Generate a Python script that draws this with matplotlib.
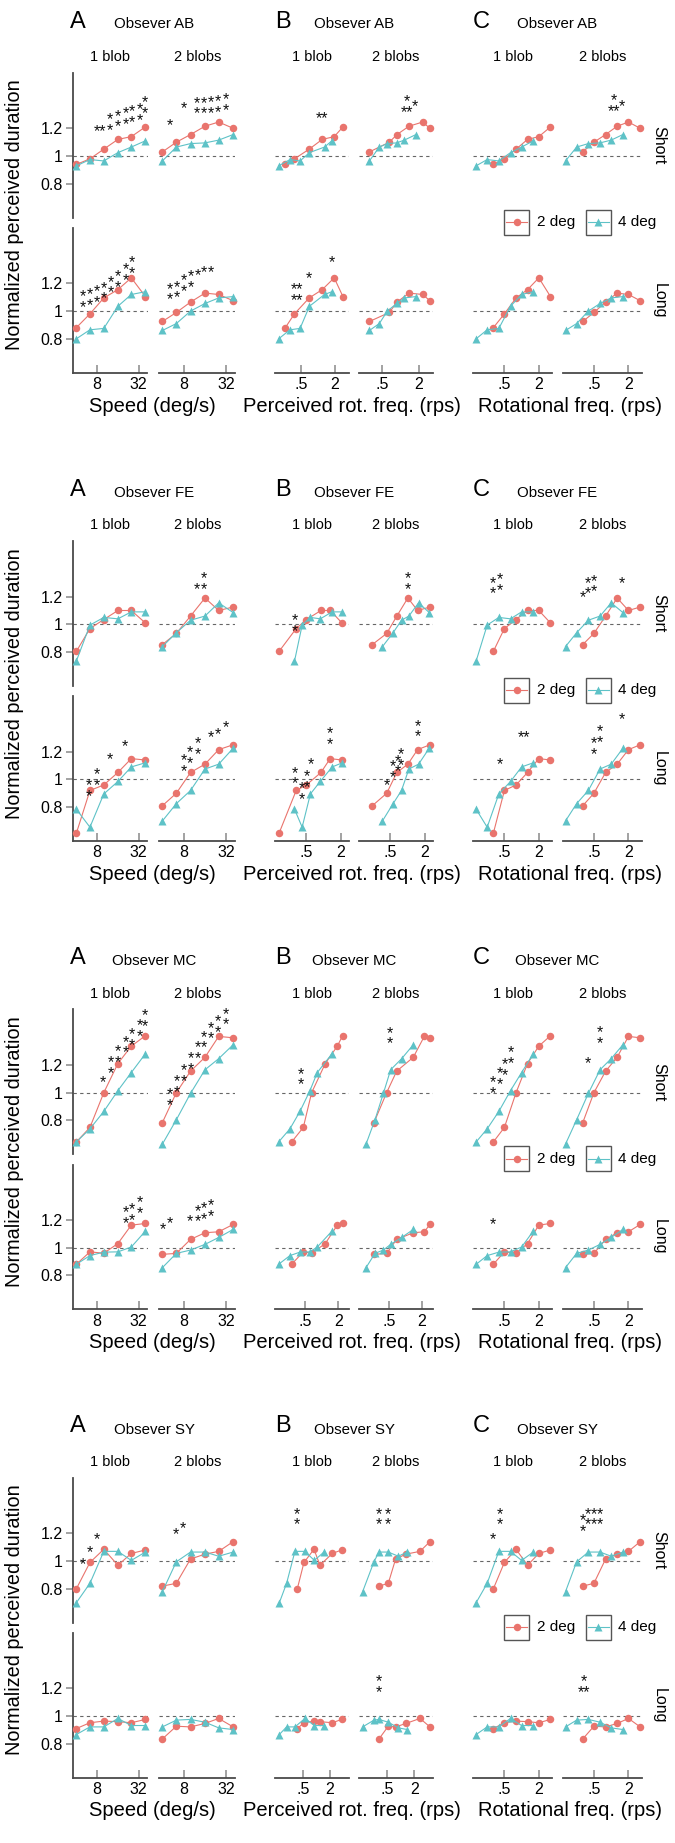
import matplotlib.pyplot as plt
from matplotlib.lines import Line2D
from matplotlib.patches import Rectangle
from matplotlib.ticker import NullLocator

plt.rcParams['font.family'] = ['Liberation Sans', 'DejaVu Sans']

W, H = 675, 1843
RED = '#E9746D'
CYAN = '#5EC2C7'
AXIS = '#4a4a4a'
TICK = '#9b9b9b'

observers = ['AB', 'FE', 'MC', 'SY']
speed = [4, 6.3, 10, 16, 25, 40]
rot_2deg = [0.32, 0.5, 0.8, 1.27, 2.0, 3.2]
rot_4deg = [0.16, 0.25, 0.4, 0.64, 1.0, 1.6]

# normalized perceived duration: <obs>_<s|l><blobs>_<size in deg>
ab_s1_2 = [0.94, 0.98, 1.05, 1.12, 1.14, 1.21]
ab_s1_4 = [0.93, 0.975, 0.965, 1.025, 1.065, 1.11]
ab_s2_2 = [1.03, 1.10, 1.155, 1.215, 1.245, 1.20]
ab_s2_4 = [0.965, 1.065, 1.09, 1.095, 1.115, 1.155]
ab_l1_2 = [0.88, 0.98, 1.095, 1.155, 1.24, 1.105]
ab_l1_4 = [0.80, 0.865, 0.875, 1.035, 1.12, 1.14]
ab_l2_2 = [0.925, 0.99, 1.065, 1.13, 1.12, 1.075]
ab_l2_4 = [0.86, 0.91, 1.0, 1.055, 1.095, 1.105]

fe_s1_2 = [0.805, 0.97, 1.035, 1.10, 1.10, 1.01]
fe_s1_4 = [0.735, 0.995, 1.05, 1.04, 1.09, 1.09]
fe_s2_2 = [0.855, 0.935, 1.06, 1.19, 1.10, 1.125]
fe_s2_4 = [0.84, 0.94, 1.03, 1.06, 1.155, 1.085]
fe_l1_2 = [0.61, 0.92, 0.96, 1.05, 1.15, 1.14]
fe_l1_4 = [0.785, 0.655, 0.895, 0.985, 1.09, 1.12]
fe_l2_2 = [0.81, 0.90, 1.05, 1.11, 1.215, 1.25]
fe_l2_4 = [0.70, 0.825, 0.92, 1.075, 1.11, 1.225]

mc_s1_2 = [0.645, 0.75, 1.0, 1.21, 1.335, 1.41]
mc_s1_4 = [0.645, 0.74, 0.865, 1.015, 1.145, 1.28]
mc_s2_2 = [0.785, 1.0, 1.155, 1.255, 1.405, 1.395]
mc_s2_4 = [0.63, 0.805, 0.995, 1.165, 1.245, 1.345]
mc_l1_2 = [0.88, 0.97, 0.96, 1.03, 1.163, 1.175]
mc_l1_4 = [0.88, 0.943, 0.968, 0.97, 1.005, 1.12]
mc_l2_2 = [0.952, 0.959, 1.06, 1.108, 1.115, 1.168]
mc_l2_4 = [0.856, 0.959, 0.983, 1.024, 1.074, 1.132]

sy_s1_2 = [0.80, 0.99, 1.085, 0.97, 1.055, 1.08]
sy_s1_4 = [0.70, 0.84, 1.07, 1.07, 1.005, 1.065]
sy_s2_2 = [0.82, 0.84, 1.015, 1.05, 1.07, 1.14]
sy_s2_4 = [0.78, 0.995, 1.065, 1.065, 1.035, 1.065]
sy_l1_2 = [0.91, 0.952, 0.964, 0.96, 0.952, 0.976]
sy_l1_4 = [0.867, 0.922, 0.922, 0.983, 0.932, 0.932]
sy_l2_2 = [0.835, 0.927, 0.922, 0.947, 0.983, 0.922]
sy_l2_4 = [0.922, 0.971, 0.976, 0.956, 0.915, 0.903]

# perceived rotational frequency (rps): <obs>_p<blobs>_<size>
ab_p1_2 = [0.26, 0.38, 0.70, 1.20, 1.97, 2.83]
ab_p1_4 = [0.198, 0.316, 0.48, 0.707, 1.32, 1.79]
ab_p2_2 = [0.305, 0.652, 0.875, 1.383, 2.33, 3.07]
ab_p2_4 = [0.305, 0.445, 0.605, 0.864, 1.158, 1.806]
fe_p1_2 = [0.171, 0.338, 0.507, 0.901, 1.298, 2.08]
fe_p1_4 = [0.316, 0.428, 0.593, 0.877, 1.405, 2.107]
fe_p2_2 = [0.241, 0.43, 0.646, 1.007, 1.488, 2.45]
fe_p2_4 = [0.362, 0.556, 0.78, 1.048, 1.549, 2.38]
mc_p1_2 = [0.287, 0.467, 0.66, 1.165, 1.918, 2.395]
mc_p1_4 = [0.167, 0.268, 0.406, 0.616, 0.835, 1.537]
mc_p2_2 = [0.259, 0.445, 0.685, 1.4, 2.24, 2.86]
mc_p2_4 = [0.184, 0.27, 0.387, 0.529, 0.849, 1.4]
sy_p1_2 = [0.366, 0.518, 0.871, 1.19, 2.26, 3.67]
sy_p1_4 = [0.144, 0.21, 0.324, 0.545, 0.886, 1.464]
sy_p2_2 = [0.326, 0.526, 0.767, 1.304, 2.676, 4.47]
sy_p2_4 = [0.141, 0.252, 0.326, 0.526, 0.88, 1.396]

# significance marks: (column, duration, blobs, x, y, stars)
ab_stars = [
    ('A', 'Short', 1, 8.7, 1.211, '**'), ('A', 'Short', 1, 12.4, 1.259, '*\n*'),
    ('A', 'Short', 1, 15.9, 1.283, '*\n*'), ('A', 'Short', 1, 20.6, 1.302, '*\n*'),
    ('A', 'Short', 1, 25.6, 1.316, '*\n*'), ('A', 'Short', 1, 32.8, 1.331, '*\n*'),
    ('A', 'Short', 1, 39.5, 1.383, '*\n*'),
    ('A', 'Short', 2, 5.1, 1.254, '*'), ('A', 'Short', 2, 8.0, 1.376, '*'),
    ('A', 'Short', 2, 12.3, 1.378, '*\n*'), ('A', 'Short', 2, 15.6, 1.378, '*\n*'),
    ('A', 'Short', 2, 19.6, 1.383, '*\n*'), ('A', 'Short', 2, 24.5, 1.388, '*\n*'),
    ('A', 'Short', 2, 31.6, 1.402, '*\n*'),
    ('A', 'Long', 1, 5.0, 1.102, '*\n*'), ('A', 'Long', 1, 6.3, 1.114, '*\n*'),
    ('A', 'Long', 1, 8.0, 1.138, '*\n*'), ('A', 'Long', 1, 10.1, 1.162, '*\n*'),
    ('A', 'Long', 1, 12.6, 1.204, '*\n*'), ('A', 'Long', 1, 16.2, 1.247, '*\n*'),
    ('A', 'Long', 1, 20.6, 1.296, '*\n*'), ('A', 'Long', 1, 25.6, 1.344, '*\n*'),
    ('A', 'Long', 2, 5.1, 1.155, '*\n*'), ('A', 'Long', 2, 6.4, 1.170, '*\n*'),
    ('A', 'Long', 2, 8.0, 1.216, '*\n*'), ('A', 'Long', 2, 10.1, 1.247, '*\n*'),
    ('A', 'Long', 2, 12.6, 1.291, '*'), ('A', 'Long', 2, 15.6, 1.313, '*'),
    ('A', 'Long', 2, 19.6, 1.313, '*'),
    ('B', 'Short', 1, 1.21, 1.302, '**'),
    ('B', 'Short', 2, 1.26, 1.39, '*\n**'), ('B', 'Short', 2, 1.76, 1.395, '*'),
    ('B', 'Long', 1, 0.43, 1.15, '**\n**'), ('B', 'Long', 1, 0.69, 1.267, '*'),
    ('B', 'Long', 1, 1.79, 1.385, '*'),
    ('C', 'Short', 2, 1.10, 1.393, '*\n**'), ('C', 'Short', 2, 1.55, 1.395, '*'),
]
fe_stars = [
    ('A', 'Short', 2, 12.3, 1.283, '*'), ('A', 'Short', 2, 15.6, 1.323, '*\n*'),
    ('A', 'Long', 1, 6.1, 0.952, '*\n*'), ('A', 'Long', 1, 7.9, 1.029, '*\n*'),
    ('A', 'Long', 1, 12.4, 1.177, '*'), ('A', 'Long', 1, 20.2, 1.273, '*'),
    ('A', 'Long', 2, 8.0, 1.132, '*\n*'), ('A', 'Long', 2, 9.9, 1.189, '*\n*'),
    ('A', 'Long', 2, 12.6, 1.256, '*\n*'), ('A', 'Long', 2, 19.6, 1.335, '*'),
    ('A', 'Long', 2, 24.5, 1.357, '*'), ('A', 'Long', 2, 31.5, 1.412, '*'),
    ('B', 'Short', 1, 0.316, 1.024, '*\n*'), ('B', 'Short', 2, 1.02, 1.323, '*\n*'),
    ('B', 'Long', 1, 0.316, 1.041, '*\n*'), ('B', 'Long', 1, 0.428, 0.928, '*\n*'),
    ('B', 'Long', 1, 0.507, 1.017, '*\n*'), ('B', 'Long', 1, 0.608, 1.141, '*'),
    ('B', 'Long', 1, 1.30, 1.328, '*\n*'),
    ('B', 'Long', 2, 0.426, 0.993, '*'), ('B', 'Long', 2, 0.556, 1.089, '*\n*'),
    ('B', 'Long', 2, 0.664, 1.129, '*\n*'), ('B', 'Long', 2, 0.75, 1.177, '*\n*'),
    ('B', 'Long', 2, 1.49, 1.381, '*\n*'),
    ('C', 'Short', 1, 0.32, 1.292, '*\n*'), ('C', 'Short', 1, 0.41, 1.316, '*\n*'),
    ('C', 'Short', 2, 0.316, 1.228, '*'), ('C', 'Short', 2, 0.398, 1.292, '*\n*'),
    ('C', 'Short', 2, 0.507, 1.307, '*\n*'), ('C', 'Short', 2, 1.53, 1.331, '*'),
    ('C', 'Long', 1, 0.41, 1.141, '*'), ('C', 'Long', 1, 1.11, 1.335, '**'),
    ('C', 'Long', 2, 0.5, 1.256, '*\n*'), ('C', 'Long', 2, 0.637, 1.343, '*\n*'),
    ('C', 'Long', 2, 1.53, 1.467, '*'),
]
mc_stars = [
    ('A', 'Short', 1, 9.85, 1.111, '*'), ('A', 'Short', 1, 12.6, 1.214, '*\n*'),
    ('A', 'Short', 1, 15.9, 1.292, '*\n*'), ('A', 'Short', 1, 20.6, 1.359, '*\n*'),
    ('A', 'Short', 1, 25.6, 1.412, '*\n*'), ('A', 'Short', 1, 32.8, 1.48, '*\n*'),
    ('A', 'Short', 1, 39.5, 1.552, '*\n*'),
    ('A', 'Short', 2, 5.1, 0.983, '*\n*'), ('A', 'Short', 2, 6.4, 1.075, '*\n*'),
    ('A', 'Short', 2, 8.0, 1.154, '*\n*'), ('A', 'Short', 2, 10.1, 1.243, '*\n*'),
    ('A', 'Short', 2, 12.6, 1.32, '*\n*'), ('A', 'Short', 2, 15.6, 1.395, '*\n*'),
    ('A', 'Short', 2, 19.6, 1.46, '*\n*'), ('A', 'Short', 2, 24.5, 1.508, '*\n*'),
    ('A', 'Short', 2, 31.6, 1.561, '*\n*'),
    ('A', 'Long', 1, 20.6, 1.249, '*\n*'), ('A', 'Long', 1, 25.6, 1.271, '*\n*'),
    ('A', 'Long', 1, 32.8, 1.321, '*\n*'),
    ('A', 'Long', 2, 4.04, 1.163, '*'), ('A', 'Long', 2, 5.1, 1.211, '*'),
    ('A', 'Long', 2, 9.9, 1.223, '*'), ('A', 'Long', 2, 12.6, 1.259, '*\n*'),
    ('A', 'Long', 2, 15.6, 1.278, '*\n*'), ('A', 'Long', 2, 19.6, 1.30, '*\n*'),
    ('B', 'Short', 1, 0.423, 1.13, '*\n*'), ('B', 'Short', 2, 0.514, 1.424, '*\n*'),
    ('C', 'Short', 1, 0.32, 1.067, '*\n*'), ('C', 'Short', 1, 0.41, 1.135, '*\n*'),
    ('C', 'Short', 1, 0.513, 1.2, '*\n*'), ('C', 'Short', 1, 0.644, 1.284, '*\n*'),
    ('C', 'Short', 2, 0.398, 1.243, '*'), ('C', 'Short', 2, 0.637, 1.429, '*\n*'),
    ('C', 'Long', 1, 0.32, 1.204, '*'),
]
sy_stars = [
    ('A', 'Short', 1, 5.0, 1.012, '*'), ('A', 'Short', 1, 6.2, 1.093, '*'),
    ('A', 'Short', 1, 7.9, 1.192, '*'),
    ('A', 'Short', 2, 6.3, 1.228, '*'), ('A', 'Short', 2, 7.8, 1.268, '*'),
    ('B', 'Short', 1, 0.354, 1.335, '*\n*'),
    ('B', 'Short', 2, 0.326, 1.335, '*\n*'), ('B', 'Short', 2, 0.509, 1.335, '*\n*'),
    ('B', 'Long', 2, 0.326, 1.247, '*\n*'),
    ('C', 'Short', 1, 0.41, 1.335, '*\n*'), ('C', 'Short', 1, 0.32, 1.189, '*'),
    ('C', 'Short', 2, 0.316, 1.287, '*\n*'), ('C', 'Short', 2, 0.398, 1.333, '*\n*'),
    ('C', 'Short', 2, 0.5, 1.333, '*\n*'), ('C', 'Short', 2, 0.637, 1.333, '*\n*'),
    ('C', 'Long', 2, 0.34, 1.245, '*\n**'),
]

dur = {
    ('AB', 'Short', 1): (ab_s1_2, ab_s1_4), ('AB', 'Short', 2): (ab_s2_2, ab_s2_4),
    ('AB', 'Long', 1): (ab_l1_2, ab_l1_4), ('AB', 'Long', 2): (ab_l2_2, ab_l2_4),
    ('FE', 'Short', 1): (fe_s1_2, fe_s1_4), ('FE', 'Short', 2): (fe_s2_2, fe_s2_4),
    ('FE', 'Long', 1): (fe_l1_2, fe_l1_4), ('FE', 'Long', 2): (fe_l2_2, fe_l2_4),
    ('MC', 'Short', 1): (mc_s1_2, mc_s1_4), ('MC', 'Short', 2): (mc_s2_2, mc_s2_4),
    ('MC', 'Long', 1): (mc_l1_2, mc_l1_4), ('MC', 'Long', 2): (mc_l2_2, mc_l2_4),
    ('SY', 'Short', 1): (sy_s1_2, sy_s1_4), ('SY', 'Short', 2): (sy_s2_2, sy_s2_4),
    ('SY', 'Long', 1): (sy_l1_2, sy_l1_4), ('SY', 'Long', 2): (sy_l2_2, sy_l2_4),
}
prf = {
    ('AB', 1): (ab_p1_2, ab_p1_4), ('AB', 2): (ab_p2_2, ab_p2_4),
    ('FE', 1): (fe_p1_2, fe_p1_4), ('FE', 2): (fe_p2_2, fe_p2_4),
    ('MC', 1): (mc_p1_2, mc_p1_4), ('MC', 2): (mc_p2_2, mc_p2_4),
    ('SY', 1): (sy_p1_2, sy_p1_4), ('SY', 2): (sy_p2_2, sy_p2_4),
}
prf_xlim = {
    ('AB', 1): (0.170, 3.68), ('AB', 2): (0.205, 3.50),
    ('FE', 1): (0.146, 2.77), ('FE', 2): (0.141, 2.80),
    ('MC', 1): (0.144, 3.16), ('MC', 2): (0.136, 3.30),
    ('SY', 1): (0.115, 5.46), ('SY', 2): (0.117, 5.30),
}
stars = {'AB': ab_stars, 'FE': fe_stars, 'MC': mc_stars, 'SY': sy_stars}

# layout in pixels
block_top = [0, 468.3, 936.6, 1405]
rows = {'Short': (72.7, 217.8), 'Long': (228, 372.6)}
cols = {'A': [(73.3, 147.5), (159.3, 235.3)],
        'B': [(275, 349.3), (359, 433.3)],
        'C': [(473.3, 552), (562.7, 641.7)]}
letter_x = {'A': 70, 'B': 275, 'C': 473}
title_x = {'A': 89, 'B': 243, 'C': 478}
xtitles = {'A': 'Speed (deg/s)', 'B': 'Perceived rot. freq. (rps)',
           'C': 'Rotational freq. (rps)'}

STAR_FS = 11.5

fig = plt.figure(figsize=(W / 100, H / 100), dpi=100)


def fx(x):
    return x / W


def fy(y):
    return 1 - y / H


def draw_stars(ax, x, y, label):
    # one text per group; the glyphs sit ~0.31 em above the box centre
    ax.annotate(label, (x, y), xytext=(0, -0.31 * STAR_FS), textcoords='offset points',
                ha='center', va='center', multialignment='center',
                fontsize=STAR_FS, linespacing=0.64, color='#111111',
                annotation_clip=False, zorder=6)


axes = {}
for b, obs in enumerate(observers):
    top = block_top[b]
    for col in 'ABC':
        for p, blobs in enumerate((1, 2)):
            x0, x1 = cols[col][p]
            for row in ('Short', 'Long'):
                y0, y1 = rows[row]
                ax = fig.add_axes([fx(x0), fy(top + y1), (x1 - x0) / W, (y1 - y0) / H])
                axes[(obs, col, row, blobs)] = ax
                y2, y4 = dur[(obs, row, blobs)]
                if col == 'A':
                    x2, x4 = speed, speed
                    xlim, ticks, tlabels = (3.62, 42.9), [8, 32], ['8', '32']
                elif col == 'B':
                    x2, x4 = prf[(obs, blobs)]
                    xlim, ticks, tlabels = prf_xlim[(obs, blobs)], [0.5, 2], ['.5', '2']
                else:
                    x2, x4 = rot_2deg, rot_4deg
                    xlim, ticks, tlabels = (0.143, 3.4), [0.5, 2], ['.5', '2']

                ax.axhline(1, color='#666666', lw=0.8, ls=(0, (3, 3)), zorder=1)
                ax.plot(x2, y2, color=RED, lw=0.8, marker='o', ms=5.4, mec='none',
                        zorder=3, clip_on=False)
                ax.plot(x4, y4, color=CYAN, lw=0.8, marker='^', ms=6.2, mec='none',
                        zorder=4, clip_on=False)
                ax.set_xscale('log')
                ax.set_xlim(*xlim)
                ax.set_ylim(0.556, 1.6)
                ax.patch.set_visible(False)
                for s in ax.spines.values():
                    s.set_visible(False)
                ax.xaxis.set_minor_locator(NullLocator())
                ax.yaxis.set_minor_locator(NullLocator())

                if col == 'A' and blobs == 1:
                    ax.spines['left'].set_visible(True)
                    ax.spines['left'].set_color(AXIS)
                    ax.spines['left'].set_linewidth(1.3)
                    ax.set_yticks([0.8, 1, 1.2], ['0.8', '1', '1.2'])
                    ax.tick_params(axis='y', direction='out', length=5.3, width=1.3,
                                   color=TICK, labelsize=11.5, pad=2.4)
                else:
                    ax.set_yticks([])

                if row == 'Long':
                    ax.spines['bottom'].set_visible(True)
                    ax.spines['bottom'].set_color(AXIS)
                    ax.spines['bottom'].set_linewidth(1.3)
                    ax.set_xticks(ticks, tlabels)
                    ax.tick_params(axis='x', direction='in', length=5.5, width=1.3,
                                   color=TICK, labelsize=11.5, pad=3.2)
                else:
                    ax.set_xticks([])

    for col, row, blobs, x, y, label in stars[obs]:
        draw_stars(axes[(obs, col, row, blobs)], x, y, label)

    # titles and labels
    for col in 'ABC':
        (a0, a1), (c0, c1) = cols[col]
        fig.text(fx(letter_x[col]), fy(top + 27.5), col, fontsize=17,
                 ha='left', va='baseline')
        fig.text(fx((a0 + c1) / 2), fy(top + 28.5), 'Obsever ' + obs,
                 fontsize=10.8, ha='center', va='baseline')
        fig.text(fx((a0 + a1) / 2), fy(top + 61), '1 blob', fontsize=10.5,
                 ha='center', va='baseline')
        fig.text(fx((c0 + c1) / 2), fy(top + 61), '2 blobs', fontsize=10.5,
                 ha='center', va='baseline')
        fig.text(fx(title_x[col]), fy(top + 406), xtitles[col], fontsize=14.5,
                 ha='left', va='center')

    fig.text(fx(15), fy(top + 215), 'Normalized perceived duration', fontsize=14.3,
             rotation=90, ha='center', va='center')
    for row in ('Short', 'Long'):
        y0, y1 = rows[row]
        fig.text(fx(659), fy(top + (y0 + y1) / 2), row, fontsize=11.5,
                 rotation=270, ha='center', va='center')

    # legend
    for bx, tx, color, mk, ms, label in ((504.3, 536.7, RED, 'o', 5.4, '2 deg'),
                                         (585.7, 618.3, CYAN, '^', 6.2, '4 deg')):
        fig.add_artist(Rectangle((fx(bx), fy(top + 234.5)), 25 / W, 25 / H,
                                 transform=fig.transFigure, facecolor='white',
                                 edgecolor='#555555', lw=1.0, zorder=5))
        ym = fy(top + 222)
        fig.add_artist(Line2D([fx(bx + 2), fx(bx + 23)], [ym, ym], color=color, lw=0.8,
                              transform=fig.transFigure, zorder=6))
        fig.add_artist(Line2D([fx(bx + 12.5)], [ym], color=color, marker=mk, ms=ms,
                              mec='none', transform=fig.transFigure, zorder=7))
        fig.text(fx(tx), ym, label, fontsize=11, ha='left', va='center', zorder=7)

fig.savefig('out.png', dpi=100)
